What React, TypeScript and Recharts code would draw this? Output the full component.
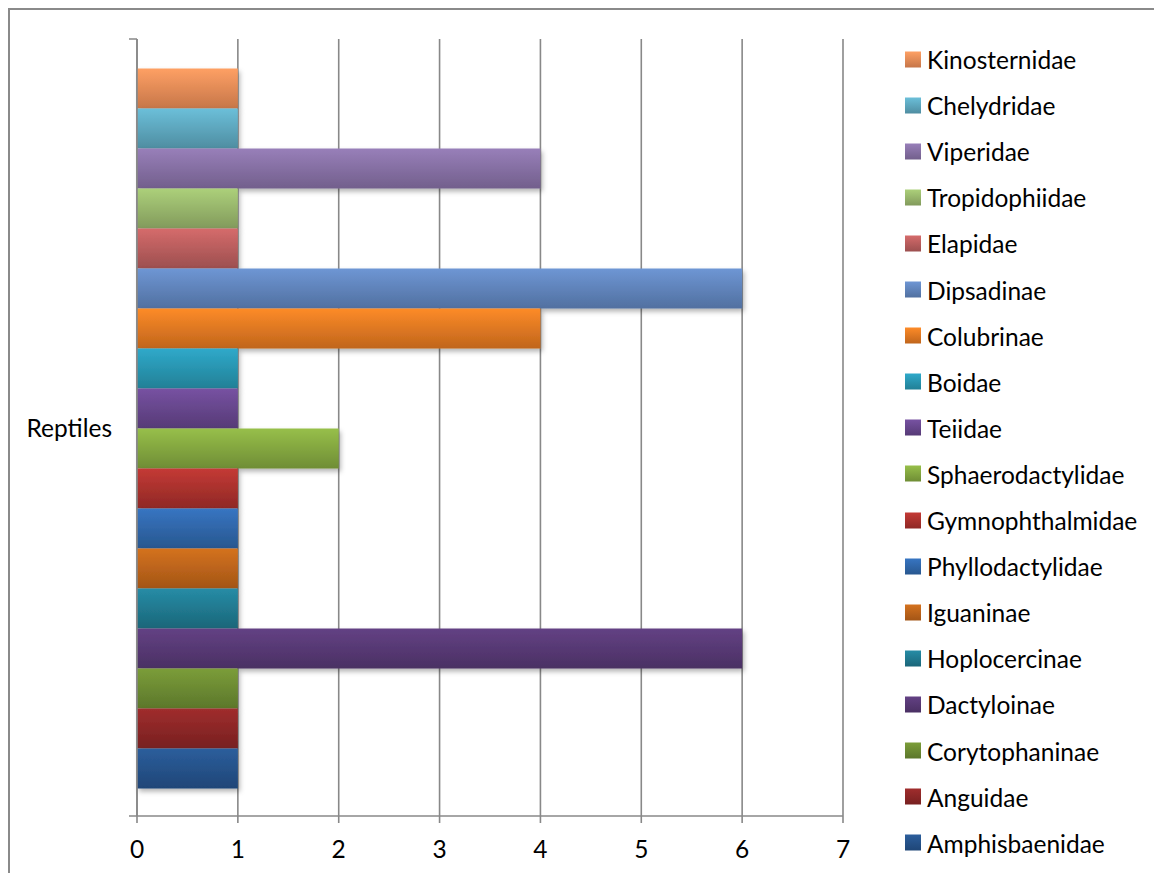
import React from 'react';
import { BarChart, Bar, XAxis, YAxis, CartesianGrid } from 'recharts';

// Families in series order (first = bottom bar, last = top bar)
const families = [
  'Amphisbaenidae',
  'Anguidae',
  'Corytophaninae',
  'Dactyloinae',
  'Hoplocercinae',
  'Iguaninae',
  'Phyllodactylidae',
  'Gymnophthalmidae',
  'Sphaerodactylidae',
  'Teiidae',
  'Boidae',
  'Colubrinae',
  'Dipsadinae',
  'Elapidae',
  'Tropidophiidae',
  'Viperidae',
  'Chelydridae',
  'Kinosternidae',
];

const counts = [1, 1, 1, 6, 1, 1, 1, 1, 2, 1, 1, 4, 6, 1, 1, 4, 1, 1];

const xTicks = [0, 1, 2, 3, 4, 5, 6, 7];

// gradient stops, top edge -> bottom edge of each bar
const topColors = [
  '#2c5e9c', '#a02d2d', '#7b9d39', '#634184', '#268ca6', '#d4721f',
  '#3775c2', '#c43a35', '#97bf4a', '#7752a2', '#2fa9ca', '#fd8b28',
  '#6e96d4', '#d56b6b', '#acd07a', '#987fb9', '#6bbfd9', '#fea064',
];
const bottomColors = [
  '#1f4677', '#772020', '#5c772b', '#4a3063', '#1b6679', '#a35516',
  '#28578f', '#8f2825', '#6f8d35', '#563a76', '#228096', '#c0651c',
  '#5170a0', '#9c4f4f', '#829a5c', '#725f8c', '#4f8da1', '#c67649',
];

const row: Record<string, string | number> = { name: 'Reptiles' };
families.forEach((f, i) => {
  row[f] = counts[i];
});
const data = [row];

const FONT = 'Lato, "Open Sans", sans-serif';
const FONT_SIZE = 24.5;
const AXIS_COLOR = '#888';
const PLOT_TOP = 29;
const PLOT_BOTTOM = 806;

// category label plus the tick marks at the band edges
const CategoryTick = (props: any) => {
  const { x, y, payload } = props;
  const half = (PLOT_BOTTOM - PLOT_TOP) / 2;
  return (
    <g>
      <line x1={x - 8} x2={x} y1={y - half} y2={y - half} stroke={AXIS_COLOR} strokeWidth={1.5} />
      <line x1={x - 8} x2={x} y1={y + half} y2={y + half} stroke={AXIS_COLOR} strokeWidth={1.5} />
      <text x={x - 25} y={y} textAnchor="end" dominantBaseline="central" fontSize={FONT_SIZE} fontFamily={FONT} fill="#000">
        {payload.value}
      </text>
    </g>
  );
};

const Legendbox = () => {
  const order = [...families.keys()].reverse();
  return (
    <div style={{ position: 'absolute', left: 895, top: 49, fontFamily: FONT, fontSize: FONT_SIZE, color: '#000' }}>
      {order.map((i, k) => (
        <div
          key={families[i]}
          style={{ position: 'absolute', top: k * 46.1, left: 0, display: 'flex', alignItems: 'center', whiteSpace: 'nowrap', transform: 'translateY(-50%)' }}
        >
          <span
            style={{
              display: 'inline-block',
              width: 16,
              height: 16,
              marginRight: 6,
              background: `linear-gradient(${topColors[i]}, ${bottomColors[i]})`,
            }}
          />
          <span>{families[i]}</span>
        </div>
      ))}
    </div>
  );
};

export default function App() {
  const drawOrder = [...families.keys()].reverse();
  return (
    <div style={{ position: 'relative', width: 1150, height: 880, border: '2px solid #8a8a8a', background: '#fff' }}>
      <BarChart
        width={1150}
        height={870}
        data={data}
        layout="vertical"
        margin={{ top: PLOT_TOP, right: 317, left: 0, bottom: 24 }}
        barGap={0}
        barCategoryGap="3.8%"
      >
        <defs>
          {families.map((f, i) => (
            <linearGradient key={f} id={`grad-${i}`} x1="0" y1="0" x2="0" y2="1">
              <stop offset="0%" stopColor={topColors[i]} />
              <stop offset="100%" stopColor={bottomColors[i]} />
            </linearGradient>
          ))}
          <filter id="barShadow" x="-5%" y="-20%" width="115%" height="160%">
            <feDropShadow dx="2" dy="3" stdDeviation="2.5" floodColor="#000" floodOpacity="0.3" />
          </filter>
        </defs>
        <CartesianGrid horizontal={false} stroke={AXIS_COLOR} strokeWidth={1.6} />
        <XAxis
          type="number"
          domain={[0, 7]}
          ticks={xTicks}
          interval={0}
          stroke={AXIS_COLOR}
          axisLine={{ stroke: AXIS_COLOR, strokeWidth: 1.6 }}
          tickLine={{ stroke: AXIS_COLOR, strokeWidth: 1.6 }}
          tickSize={7}
          tickMargin={18}
          height={40}
          tick={{ fill: '#000', fontSize: FONT_SIZE, fontFamily: FONT }}
        />
        <YAxis
          type="category"
          dataKey="name"
          width={127}
          axisLine={{ stroke: AXIS_COLOR, strokeWidth: 1.6 }}
          tickLine={false}
          tickSize={0}
          tickMargin={0}
          tick={<CategoryTick />}
        />
        {drawOrder.map((i) => (
          <Bar
            key={families[i]}
            dataKey={families[i]}
            fill={`url(#grad-${i})`}
            filter="url(#barShadow)"
            isAnimationActive={false}
          />
        ))}
      </BarChart>
      <Legendbox />
    </div>
  );
}
